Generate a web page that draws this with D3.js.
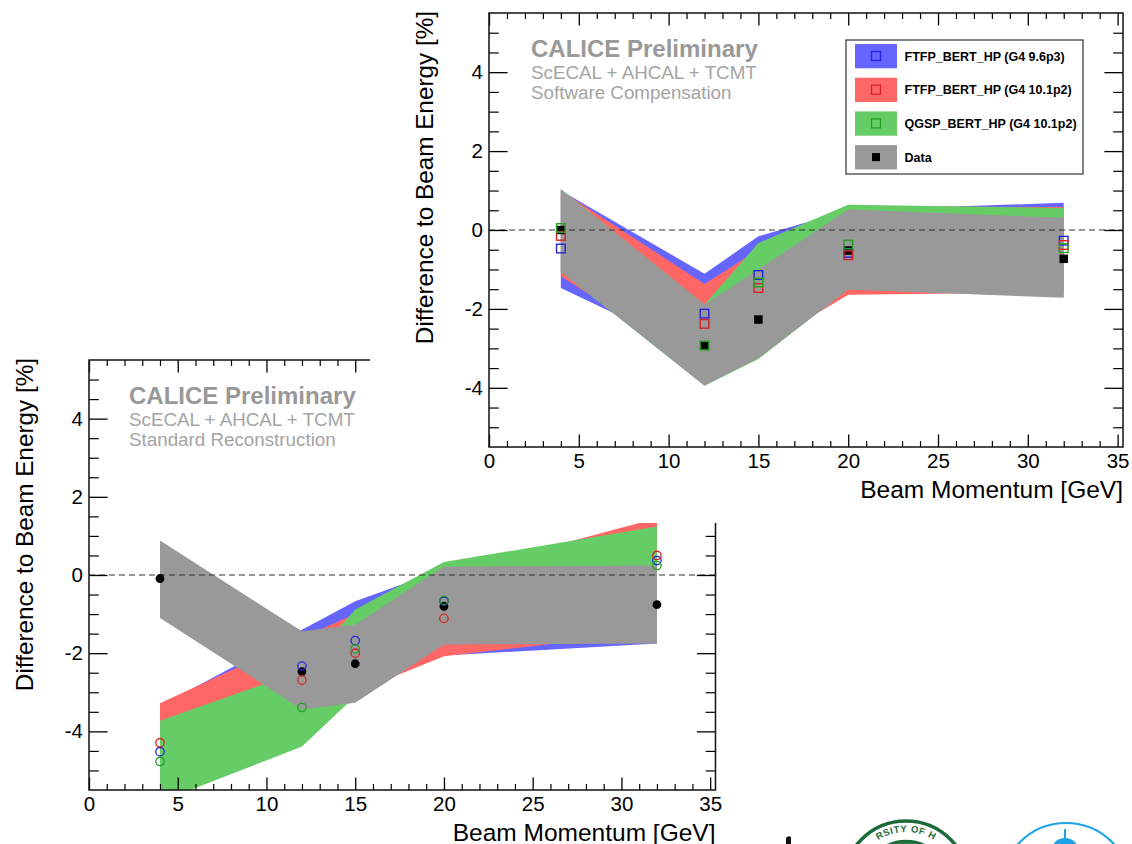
<!DOCTYPE html>
<html>
<head>
<meta charset="utf-8">
<script src="https://cdn.jsdelivr.net/npm/d3@7"></script>
<style>
  html, body { margin: 0; padding: 0; background: #ffffff; }
  svg { display: block; font-family: "Liberation Sans", Arial, Helvetica, sans-serif; }
</style>
</head>
<body>
<svg id="chart" width="1132" height="844"></svg>
<script>
// Beam momenta of the pion runs [GeV]
const momenta = [4, 12, 15, 20, 32];

// Axis ticks
const xMajorTicks = [0, 5, 10, 15, 20, 25, 30, 35];
const yMajorTicks = [-4, -2, 0, 2, 4];

// Series names and colours
const seriesNames = ["FTFP_BERT_HP (G4 9.6p3)", "FTFP_BERT_HP (G4 10.1p2)", "QGSP_BERT_HP (G4 10.1p2)", "Data"];
const bandColors = ["#6666ff", "#ff6666", "#66cc66", "#999999"];
const markerColors = ["#2424dc", "#d82424", "#22a022", "#000000"];

// --- Software compensation: deviation of reconstructed energy [%] ---
const scData     = [0.00, -2.93, -2.27, -0.52, -0.73];
const scFtfp96   = [-0.47, -2.12, -1.14, -0.58, -0.27];
const scFtfp101  = [-0.15, -2.38, -1.47, -0.64, -0.38];
const scQgsp101  = [0.05, -2.93, -1.33, -0.37, -0.46];
// systematic uncertainty bands (low / high edge)
const scDataLow       = [-1.05, -3.94, -3.25, -1.51, -1.72];
const scDataHigh      = [1.03, -1.89, -1.00, 0.52, 0.31];
const scFtfp96Low     = [-1.47, -3.20, -2.90, -1.45, -1.55];
const scFtfp96High    = [1.00, -1.11, -0.16, 0.50, 0.69];
const scFtfp101Low    = [-1.17, -3.50, -3.00, -1.64, -1.58];
const scFtfp101High   = [1.00, -1.37, -0.50, 0.60, 0.58];
const scQgsp101Low    = [-1.06, -3.95, -3.27, -1.50, -1.70];
const scQgsp101High   = [1.04, -1.89, -0.33, 0.64, 0.56];

// --- Standard reconstruction: deviation of reconstructed energy [%] ---
const stdData    = [-0.09, -2.47, -2.27, -0.80, -0.76];
const stdFtfp96  = [-4.52, -2.33, -1.68, -0.67, 0.37];
const stdFtfp101 = [-4.29, -2.69, -2.00, -1.11, 0.50];
const stdQgsp101 = [-4.77, -3.39, -1.89, -0.65, 0.24];
const stdDataLow      = [-1.10, -3.44, -3.27, -1.78, -1.75];
const stdDataHigh     = [0.88, -1.44, -1.27, 0.22, 0.24];
const stdFtfp96Low    = [-5.00, -3.90, -2.95, -2.06, -1.75];
const stdFtfp96High   = [-3.35, -1.40, -0.67, 0.15, 1.30];
const stdFtfp101Low   = [-5.20, -4.00, -3.00, -2.08, -1.45];
const stdFtfp101High  = [-3.28, -1.60, -1.00, 0.00, 1.45];
const stdQgsp101Low   = [-5.80, -4.39, -3.10, -1.70, -1.60];
const stdQgsp101High  = [-3.73, -2.44, -0.88, 0.33, 1.24];

const xDomain = [0, 35.3];
const yDomain = [-5.5, 5.5];
const xMinorTicks = d3.range(0, 36, 1).filter(v => v % 5 !== 0);
const yMinorTicks = d3.range(-5, 5.01, 0.5).filter(v => Math.abs(v % 2) > 1e-6);

const svg = d3.select("#chart");
svg.append("rect").attr("width", 1132).attr("height", 844).attr("fill", "#fff");

function styleAxis(sel, tickWidth) {
  sel.select(".domain").remove();
  sel.selectAll(".tick line").attr("stroke", "#000").attr("stroke-width", tickWidth);
  sel.attr("font-family", null).attr("font-size", null);
}

function drawPanel(root, p) {
  const g = root.append("g");
  const x = d3.scaleLinear().domain(xDomain).range([p.left, p.right]);
  const y = d3.scaleLinear().domain(yDomain).range([p.bottom, p.top]);
  const clipId = p.id + "-clip";
  g.append("clipPath").attr("id", clipId).append("rect")
    .attr("x", p.left).attr("y", p.top)
    .attr("width", p.right - p.left).attr("height", p.bottom - p.top);

  // uncertainty bands, drawn MC first and data last
  const area = d3.area()
    .x((d, i) => x(momenta[i]))
    .y0(d => y(d[0]))
    .y1(d => y(d[1]));
  const bandLayer = g.append("g").attr("clip-path", `url(#${clipId})`);
  p.bands.forEach((b, k) => {
    bandLayer.append("path")
      .datum(d3.zip(b.low, b.high))
      .attr("d", area)
      .attr("fill", bandColors[k]);
  });

  // reference line at zero
  g.append("line")
    .attr("x1", p.left).attr("x2", p.right)
    .attr("y1", y(0)).attr("y2", y(0))
    .attr("stroke", "#333").attr("stroke-width", 1.2)
    .attr("stroke-dasharray", "6,4");

  // axes: major and minor ticks on all four sides, pointing inwards
  const fmt = d => String(d);
  const bottomAx = g.append("g").attr("transform", `translate(0,${p.bottom})`)
    .call(d3.axisBottom(x).tickValues(xMajorTicks).tickSize(-12.5).tickPadding(6.5).tickFormat(fmt));
  styleAxis(bottomAx, 1.3);
  bottomAx.selectAll("text").attr("font-size", 20.5).attr("fill", "#000");
  const bottomMinor = g.append("g").attr("transform", `translate(0,${p.bottom})`)
    .call(d3.axisBottom(x).tickValues(xMinorTicks).tickSize(-6).tickFormat(""));
  styleAxis(bottomMinor, 1.2);
  const topAx = g.append("g").attr("transform", `translate(0,${p.top})`)
    .call(d3.axisTop(x).tickValues(xMajorTicks).tickSize(-12.5).tickFormat(""));
  styleAxis(topAx, 1.3);
  const topMinor = g.append("g").attr("transform", `translate(0,${p.top})`)
    .call(d3.axisTop(x).tickValues(xMinorTicks).tickSize(-6).tickFormat(""));
  styleAxis(topMinor, 1.2);

  const leftAx = g.append("g").attr("transform", `translate(${p.left},0)`)
    .call(d3.axisLeft(y).tickValues(yMajorTicks).tickSize(-18.6).tickPadding(6).tickFormat(fmt));
  styleAxis(leftAx, 1.3);
  leftAx.selectAll("text").attr("font-size", 20.5).attr("fill", "#000");
  const leftMinor = g.append("g").attr("transform", `translate(${p.left},0)`)
    .call(d3.axisLeft(y).tickValues(yMinorTicks).tickSize(-9.8).tickFormat(""));
  styleAxis(leftMinor, 1.2);
  const rightAx = g.append("g").attr("transform", `translate(${p.right},0)`)
    .call(d3.axisRight(y).tickValues(yMajorTicks).tickSize(-18.6).tickFormat(""));
  styleAxis(rightAx, 1.3);
  const rightMinor = g.append("g").attr("transform", `translate(${p.right},0)`)
    .call(d3.axisRight(y).tickValues(yMinorTicks).tickSize(-9.8).tickFormat(""));
  styleAxis(rightMinor, 1.2);

  // markers: data first, then simulations on top
  const order = [3, 0, 1, 2];
  order.forEach(k => {
    const vals = p.markers[k];
    const filled = k === 3;
    const layer = g.append("g");
    vals.forEach((v, i) => {
      const cx = x(momenta[i]), cy = y(v);
      if (p.shape === "square") {
        const s = filled ? 8.5 : 8.6;
        layer.append("rect")
          .attr("x", cx - s / 2).attr("y", cy - s / 2)
          .attr("width", s).attr("height", s)
          .attr("fill", filled ? "#000" : "none")
          .attr("stroke", filled ? "none" : markerColors[k])
          .attr("stroke-width", 1.4);
      } else {
        layer.append("circle")
          .attr("cx", cx).attr("cy", cy)
          .attr("r", filled ? 4.4 : 4.2)
          .attr("fill", filled ? "#000" : "none")
          .attr("stroke", filled ? "none" : markerColors[k])
          .attr("stroke-width", 1.3);
      }
    });
  });

  // frame
  g.append("rect")
    .attr("x", p.left).attr("y", p.top)
    .attr("width", p.right - p.left).attr("height", p.bottom - p.top)
    .attr("fill", "none").attr("stroke", "#111").attr("stroke-width", 1.5);

  // axis titles
  g.append("text")
    .attr("x", p.right).attr("y", p.bottom + 50.5)
    .attr("text-anchor", "end")
    .attr("font-size", 24.5).attr("fill", "#000")
    .text("Beam Momentum [GeV]");
  g.append("text")
    .attr("transform", `translate(${p.left - 56},${p.top - 2}) rotate(-90)`)
    .attr("text-anchor", "end")
    .attr("font-size", 24.3).attr("fill", "#000")
    .text("Difference to Beam Energy [%]");

  // labels
  const lx = p.left + p.labelDx;
  g.append("text").attr("x", lx).attr("y", p.top + 44)
    .attr("font-size", 24).attr("font-weight", "bold").attr("fill", "#999")
    .text("CALICE Preliminary");
  g.append("text").attr("x", lx).attr("y", p.top + 66)
    .attr("font-size", 18.8).attr("fill", "#a4a4a4")
    .text("ScECAL + AHCAL + TCMT");
  g.append("text").attr("x", lx).attr("y", p.top + 86)
    .attr("font-size", 18.8).attr("fill", "#a4a4a4")
    .text(p.method);

  return g;
}

// ---------- lower-left panel: standard reconstruction ----------
drawPanel(svg, {
  id: "std",
  left: 89, right: 715.5, top: 360, bottom: 790,
  labelDx: 40,
  method: "Standard Reconstruction",
  shape: "circle",
  bands: [
    { low: stdFtfp96Low, high: stdFtfp96High },
    { low: stdFtfp101Low, high: stdFtfp101High },
    { low: stdQgsp101Low, high: stdQgsp101High },
    { low: stdDataLow, high: stdDataHigh }
  ],
  markers: [stdFtfp96, stdFtfp101, stdQgsp101, stdData]
});

// ---------- upper-right panel: software compensation ----------
svg.append("rect").attr("x", 370).attr("y", 0).attr("width", 762).attr("height", 523).attr("fill", "#fff");
const topPanel = drawPanel(svg, {
  id: "sc",
  left: 489, right: 1123, top: 13, bottom: 447,
  labelDx: 42,
  method: "Software Compensation",
  shape: "square",
  bands: [
    { low: scFtfp96Low, high: scFtfp96High },
    { low: scFtfp101Low, high: scFtfp101High },
    { low: scQgsp101Low, high: scQgsp101High },
    { low: scDataLow, high: scDataHigh }
  ],
  markers: [scFtfp96, scFtfp101, scQgsp101, scData]
});

// legend
const legend = topPanel.append("g").attr("transform", "translate(846,40)");
legend.append("rect").attr("width", 237).attr("height", 134)
  .attr("fill", "#fff").attr("stroke", "#333").attr("stroke-width", 1.2);
seriesNames.forEach((name, k) => {
  const row = legend.append("g").attr("transform", `translate(0,${4 + k * 33.7})`);
  row.append("rect").attr("x", 9).attr("y", 0).attr("width", 42).attr("height", 24.3)
    .attr("fill", bandColors[k]);
  if (k === 3) {
    row.append("rect").attr("x", 26).attr("y", 8).attr("width", 8).attr("height", 8).attr("fill", "#000");
  } else {
    row.append("rect").attr("x", 25.5).attr("y", 7.5).attr("width", 9).attr("height", 9)
      .attr("fill", "none").attr("stroke", markerColors[k]).attr("stroke-width", 1.3);
  }
  row.append("text").attr("x", 58.5).attr("y", 16.5)
    .attr("font-size", 12.5).attr("font-weight", "bold").attr("fill", "#000")
    .text(name);
});

// institute seals along the bottom edge
const logos = svg.append("g");
const sealCx = 906, sealCy = 884, sealR = 63;
logos.append("circle").attr("cx", sealCx).attr("cy", sealCy).attr("r", sealR)
  .attr("fill", "#fff").attr("stroke", "#1c6b3c").attr("stroke-width", 3.5);
logos.append("circle").attr("cx", sealCx).attr("cy", sealCy).attr("r", sealR - 20)
  .attr("fill", "#2f7f4a").attr("stroke", "#1c6b3c").attr("stroke-width", 2.5);
logos.append("circle").attr("cx", sealCx).attr("cy", sealCy).attr("r", sealR - 26)
  .attr("fill", "#fff").attr("stroke", "#2f7f4a").attr("stroke-width", 2);
const arcR = sealR - 11;
logos.append("path").attr("id", "seal-arc")
  .attr("d", `M ${sealCx - arcR},${sealCy} A ${arcR},${arcR} 0 0 1 ${sealCx + arcR},${sealCy}`)
  .attr("fill", "none");
logos.append("text").attr("font-size", 9.5).attr("font-weight", "bold").attr("fill", "#1c6b3c")
  .attr("letter-spacing", 0.6)
  .append("textPath").attr("href", "#seal-arc").attr("startOffset", "50%").attr("text-anchor", "middle")
  .text("RSITY OF H");

const blueCx = 1066, blueCy = 888, blueR = 65;
logos.append("circle").attr("cx", blueCx).attr("cy", blueCy).attr("r", blueR)
  .attr("fill", "#fff").attr("stroke", "#1ea2e8").attr("stroke-width", 2.2);
logos.append("line").attr("x1", blueCx - 1).attr("x2", blueCx - 1).attr("y1", 829).attr("y2", 840)
  .attr("stroke", "#1ea2e8").attr("stroke-width", 2);
logos.append("circle").attr("cx", blueCx - 1).attr("cy", 852).attr("r", 14).attr("fill", "#1ea2e8");
logos.append("path").attr("d", "M786,844 L786,838 Q788,835 791,837 L791,844 Z").attr("fill", "#111");
</script>
</body>
</html>
